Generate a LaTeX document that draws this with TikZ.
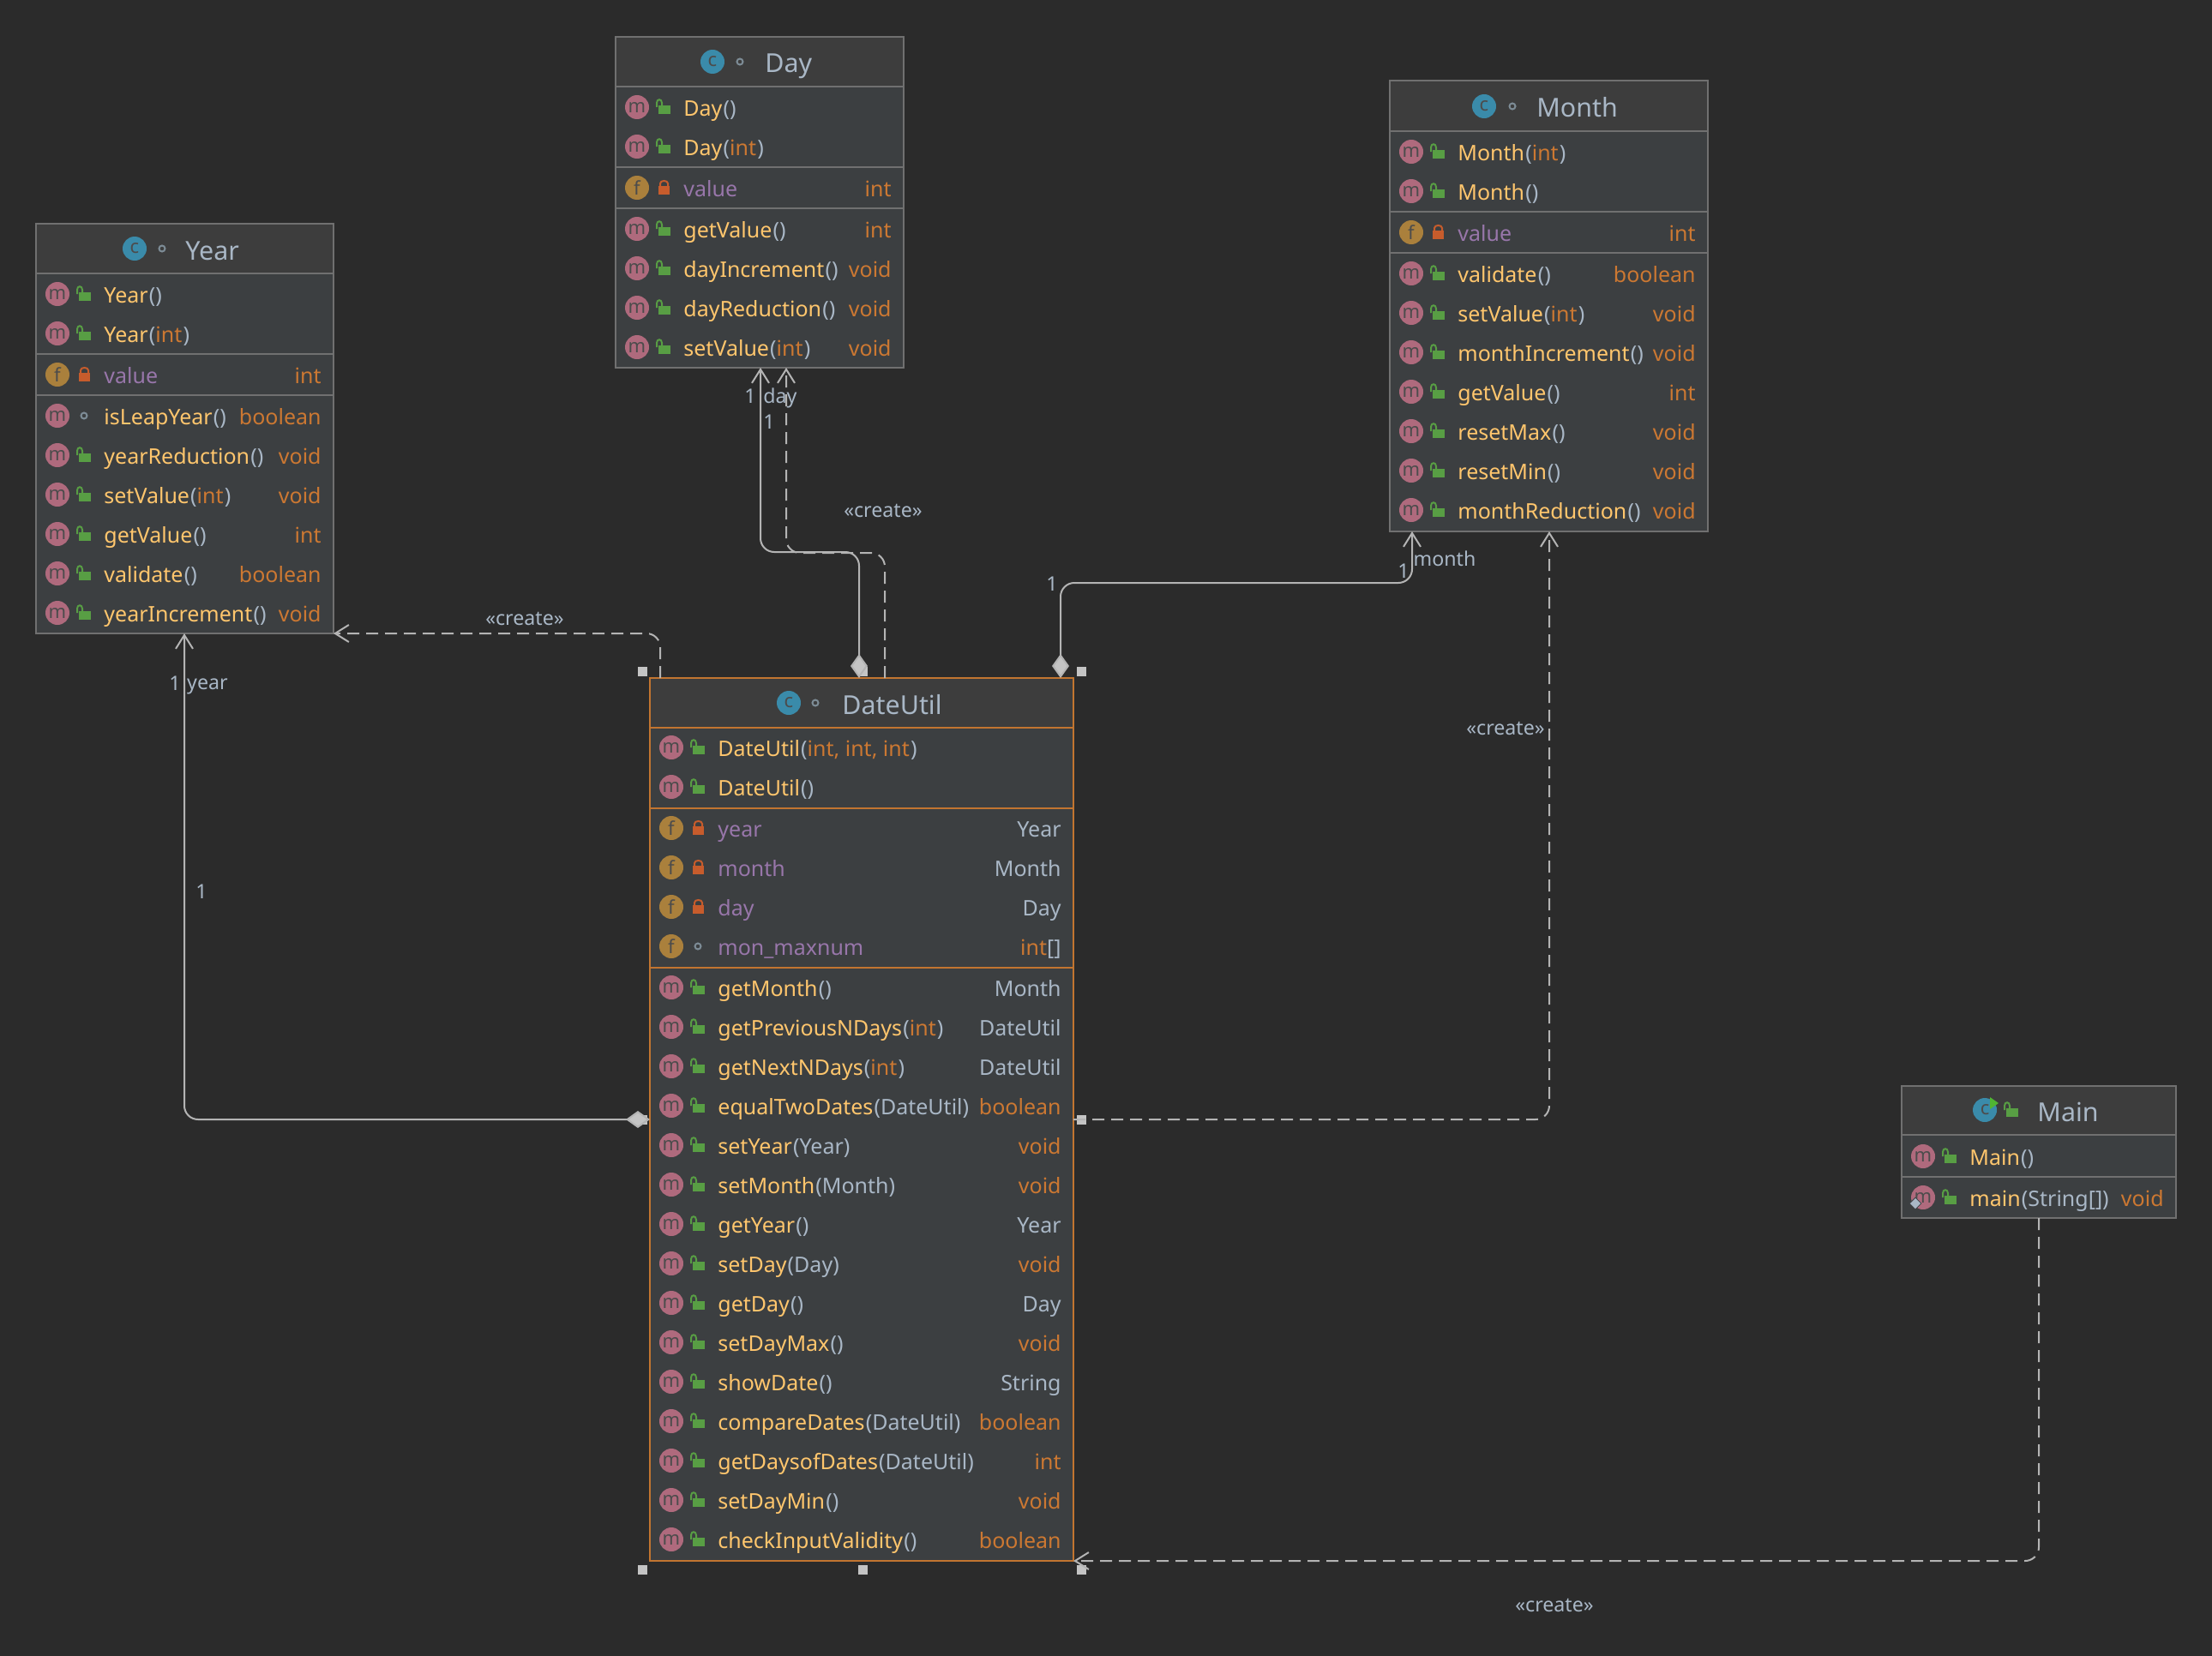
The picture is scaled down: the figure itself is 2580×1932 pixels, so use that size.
\documentclass[tikz,border=0pt]{standalone}
\usepackage{fontspec}
\setmainfont{Noto Sans}
\usetikzlibrary{calc,arrows.meta,positioning,fit,shapes.geometric}
\definecolor{pagebg}{RGB}{43,43,43}
\definecolor{bodybg}{RGB}{60,63,65}
\definecolor{headbg}{RGB}{61,61,61}
\definecolor{framegrey}{RGB}{112,112,112}
\definecolor{frameorange}{RGB}{194,117,48}
\definecolor{titleblue}{RGB}{169,183,198}
\definecolor{methodgold}{RGB}{255,198,109}
\definecolor{typeorange}{RGB}{204,120,50}
\definecolor{fieldpurple}{RGB}{152,118,170}
\definecolor{iconm}{RGB}{175,106,125}
\definecolor{iconf}{RGB}{170,128,60}
\definecolor{iconc}{RGB}{58,139,170}
\definecolor{lockgreen}{RGB}{88,158,68}
\definecolor{lockred}{RGB}{199,92,44}
\definecolor{dotgrey}{RGB}{125,140,150}
\definecolor{linkgrey}{RGB}{180,180,180}
\definecolor{handlegrey}{RGB}{196,196,196}
\definecolor{runflag}{RGB}{80,180,50}
\tikzset{
  bodyframe/.style={rectangle, fill=bodybg, inner sep=0pt, outer sep=0pt, line width=1pt},
  headframe/.style={rectangle, fill=headbg, inner sep=0pt, outer sep=0pt},
  roundicon/.style={circle, minimum size=14pt, inner sep=0pt, text=black!70, font=\fontsize{11}{11}\selectfont},
  micon/.style={roundicon, fill=iconm},
  ficon/.style={roundicon, fill=iconf},
  cicon/.style={roundicon, fill=iconc},
  rowtext/.style={anchor=base west, inner sep=0pt, text=methodgold, font=\fontsize{12.5}{12.5}\selectfont},
  rowtype/.style={anchor=base east, inner sep=0pt, text=typeorange, font=\fontsize{12.5}{12.5}\selectfont},
  classtitle/.style={anchor=base west, inner sep=0pt, text=titleblue, font=\fontsize{15.2}{15.2}\selectfont},
  linktext/.style={inner sep=0pt, text=titleblue, font=\fontsize{11.6}{11.6}\selectfont},
  handlebox/.style={rectangle, fill=handlegrey, minimum size=5.5pt, inner sep=0pt},
  staticmark/.style={diamond, fill=titleblue, draw=bodybg, minimum size=7pt, inner sep=0pt},
  linkline/.style={line width=1pt, linkgrey, rounded corners=8pt},
  usedep/.style={linkline, dash pattern=on 7pt off 4pt, -{Straight Barb[length=8pt,width=10pt]}},
  partof/.style={linkline, {Diamond[length=14pt,width=10pt,fill=handlegrey]}-{Straight Barb[length=8pt,width=10pt]}},
  openlock/.pic={
    \fill[lockgreen] (-6,-2) rectangle (8,8);
    \draw[lockgreen, line width=1pt] (-8,0) -- (-8,-5) .. controls (-8,-10) and (-2,-10) .. (-2,-5) -- (-2,-2);
  },
  shutlock/.pic={
    \fill[lockred] (-6,-2) rectangle (7,8);
    \draw[lockred, line width=1pt] (-4,-2) -- (-4,-5) .. controls (-4,-9) and (5,-9) .. (5,-5) -- (5,-2);
  },
  packdot/.pic={
    \draw[dotgrey, line width=1pt] (0,0) circle (3.5);
  },
}
\newcommand{\mn}[1]{\textcolor{methodgold}{#1}}
\newcommand{\fn}[1]{\textcolor{fieldpurple}{#1}}
\newcommand{\pa}[1]{\textcolor{titleblue}{\kern0.6pt#1}}
\newcommand{\ty}[1]{\textcolor{typeorange}{#1}}
\newcommand{\cl}[1]{\textcolor{titleblue}{#1}}
% name, left, top, right, bottom, header bottom, frame colour
\newcommand{\classbox}[7]{
  \def\rowL{#2}\def\rowR{#4}\def\rowC{#7}
  \node[bodyframe, fit={(#2,#3)(#4,#5)}] (#1) {};
  \node[headframe, fit={(#2,#3)(#4,#6)}] (#1Head) {};
  \node[draw=#7, line width=1pt, inner sep=0pt, outer sep=0pt, fit={(#2,#3)(#4,#5)}] (#1Frame) {};
  \draw[#7, line width=1pt] (#2,#6) -- (#4,#6);
}
\newcommand{\rowline}[1]{\draw[\rowC, line width=1pt] (\rowL,#1) -- (\rowR,#1);}
% name, y, icon style, letter, mark, label, type
\newcommand{\classrow}[7]{
  \node[#3] (#1Icon) at (\rowL+25,#2) {#4};
  \pic at (\rowL+56,#2) {#5};
  \node[rowtext] (#1Text) at (\rowL+79,#2+10) {#6};
  \if\relax\detokenize{#7}\relax\else
    \node[rowtype] (#1Type) at (\rowR-14,#2+10) {#7};
  \fi
}
\newcommand{\mrow}[4]{\classrow{#1}{#2}{micon}{m}{openlock}{#3}{#4}}
\newcommand{\frow}[4]{\classrow{#1}{#2}{ficon}{f}{shutlock}{#3}{#4}}

\begin{document}
\begin{tikzpicture}[x=0.5pt, y=-0.5pt]
  \useasboundingbox (0,0) rectangle (2580,1932);
  \fill[pagebg] (0,0) rectangle (2580,1932);

  % Year
  \classbox{year}{42}{261}{389}{739}{319}{framegrey}
  \node[cicon] (yearC) at (157,290) {c};
  \pic at (189,290) {packdot};
  \node[classtitle] (yearTitle) at (216,303) {Year};
  \rowline{413}
  \rowline{461}
  \mrow{yearA}{343}{\mn{Year}\pa{()}}{}
  \mrow{yearB}{389}{\mn{Year}\pa{(}\ty{int}\pa{)}}{}
  \frow{yearF}{437}{\fn{value}}{int}
  \classrow{yearD}{485}{micon}{m}{packdot}{\mn{isLeapYear}\pa{()}}{boolean}
  \mrow{yearE}{531}{\mn{yearReduction}\pa{()}}{void}
  \mrow{yearG}{577}{\mn{setValue}\pa{(}\ty{int}\pa{)}}{void}
  \mrow{yearH}{623}{\mn{getValue}\pa{()}}{int}
  \mrow{yearI}{669}{\mn{validate}\pa{()}}{boolean}
  \mrow{yearJ}{715}{\mn{yearIncrement}\pa{()}}{void}

  % Day
  \classbox{day}{718}{43}{1054}{429}{101}{framegrey}
  \node[cicon] (dayC) at (831,72) {c};
  \pic at (863,72) {packdot};
  \node[classtitle] (dayTitle) at (892,85) {Day};
  \rowline{195}
  \rowline{243}
  \mrow{dayA}{125}{\mn{Day}\pa{()}}{}
  \mrow{dayB}{171}{\mn{Day}\pa{(}\ty{int}\pa{)}}{}
  \frow{dayF}{219}{\fn{value}}{int}
  \mrow{dayD}{267}{\mn{getValue}\pa{()}}{int}
  \mrow{dayE}{313}{\mn{dayIncrement}\pa{()}}{void}
  \mrow{dayG}{359}{\mn{dayReduction}\pa{()}}{void}
  \mrow{dayH}{405}{\mn{setValue}\pa{(}\ty{int}\pa{)}}{void}

  % Month
  \classbox{month}{1621}{94}{1992}{620}{153}{framegrey}
  \node[cicon] (monthC) at (1731,124) {c};
  \pic at (1764,124) {packdot};
  \node[classtitle] (monthTitle) at (1792,136) {Month};
  \rowline{247}
  \rowline{295}
  \mrow{monthA}{177}{\mn{Month}\pa{(}\ty{int}\pa{)}}{}
  \mrow{monthB}{223}{\mn{Month}\pa{()}}{}
  \frow{monthF}{271}{\fn{value}}{int}
  \mrow{monthD}{319}{\mn{validate}\pa{()}}{boolean}
  \mrow{monthE}{365}{\mn{setValue}\pa{(}\ty{int}\pa{)}}{void}
  \mrow{monthG}{411}{\mn{monthIncrement}\pa{()}}{void}
  \mrow{monthH}{457}{\mn{getValue}\pa{()}}{int}
  \mrow{monthI}{503}{\mn{resetMax}\pa{()}}{void}
  \mrow{monthJ}{549}{\mn{resetMin}\pa{()}}{void}
  \mrow{monthK}{595}{\mn{monthReduction}\pa{()}}{void}

  % DateUtil
  \classbox{dateUtil}{758}{791}{1252}{1821}{849}{frameorange}
  \node[cicon] (dateUtilC) at (920,820) {c};
  \pic at (951,820) {packdot};
  \node[classtitle] (dateUtilTitle) at (982,833) {DateUtil};
  \rowline{943}
  \rowline{1129}
  \mrow{dateA}{872}{\mn{DateUtil}\pa{(}\ty{int, int, int}\pa{)}}{}
  \mrow{dateB}{918}{\mn{DateUtil}\pa{()}}{}
  \frow{dateF}{966}{\fn{year}}{\cl{Year}}
  \frow{dateG}{1012}{\fn{month}}{\cl{Month}}
  \frow{dateH}{1058}{\fn{day}}{\cl{Day}}
  \classrow{dateI}{1104}{ficon}{f}{packdot}{\fn{mon\_maxnum}}{int\cl{\textbf{[]}}}
  \mrow{dateJ}{1152}{\mn{getMonth}\pa{()}}{\cl{Month}}
  \mrow{dateK}{1198}{\mn{getPreviousNDays}\pa{(}\ty{int}\pa{)}}{\cl{DateUtil}}
  \mrow{dateL}{1244}{\mn{getNextNDays}\pa{(}\ty{int}\pa{)}}{\cl{DateUtil}}
  \mrow{dateM}{1290}{\mn{equalTwoDates}\pa{(DateUtil)}}{boolean}
  \mrow{dateN}{1336}{\mn{setYear}\pa{(Year)}}{void}
  \mrow{dateO}{1382}{\mn{setMonth}\pa{(Month)}}{void}
  \mrow{dateP}{1428}{\mn{getYear}\pa{()}}{\cl{Year}}
  \mrow{dateQ}{1474}{\mn{setDay}\pa{(Day)}}{void}
  \mrow{dateR}{1520}{\mn{getDay}\pa{()}}{\cl{Day}}
  \mrow{dateS}{1566}{\mn{setDayMax}\pa{()}}{void}
  \mrow{dateT}{1612}{\mn{showDate}\pa{()}}{\cl{String}}
  \mrow{dateU}{1658}{\mn{compareDates}\pa{(DateUtil)}}{boolean}
  \mrow{dateV}{1704}{\mn{getDaysofDates}\pa{(DateUtil)}}{int}
  \mrow{dateW}{1750}{\mn{setDayMin}\pa{()}}{void}
  \mrow{dateX}{1796}{\mn{checkInputValidity}\pa{()}}{boolean}

  % Main
  \classbox{main}{2218}{1267}{2538}{1421}{1324}{framegrey}
  \node[cicon] (mainC) at (2315,1295) {c};
  \fill[runflag] (2321,1280) -- (2331,1287) -- (2321,1294) -- cycle;
  \pic at (2346,1295) {openlock};
  \node[classtitle] (mainTitle) at (2376,1308) {Main};
  \rowline{1373}
  \mrow{mainA}{1349}{\mn{Main}\pa{()}}{}
  \mrow{mainB}{1397}{\mn{main}\pa{(String\textbf{[]})}}{void}
  \node[staticmark] (mainStatic) at (2234,1404) {};

  % handles
  \node[handlebox] (handleNW) at (749,783) {};
  \node[handlebox] (handleN) at (1006,783) {};
  \node[handlebox] (handleNE) at (1261,783) {};
  \node[handlebox] (handleW) at (749,1306) {};
  \node[handlebox] (handleE) at (1261,1306) {};
  \node[handlebox] (handleSW) at (749,1831) {};
  \node[handlebox] (handleS) at (1006,1831) {};
  \node[handlebox] (handleSE) at (1261,1831) {};

  % links
  \coordinate (yearBend) at (215,1306);
  \coordinate (dayBend) at (887,644);
  \coordinate (dayDash) at (917,645);
  \coordinate (monthBend) at (1647,680);
  \draw[partof] (dateUtil.west |- yearBend) -| (year.south -| yearBend);
  \draw[usedep] (dateUtil.north -| 770,0) |- (year.east |- 0,739);
  \draw[partof] (dateUtil.north -| 1002,0) |- (dayBend) -- (day.south -| dayBend);
  \draw[usedep] (dateUtil.north -| 1032,0) |- (dayDash) -- (day.south -| dayDash);
  \draw[partof] (dateUtil.north -| 1237,0) |- (monthBend) -- (month.south -| monthBend);
  \draw[usedep] (dateUtil.east |- 0,1306) -| (month.south -| 1807,0);
  \draw[usedep] (main.south -| 2378,0) |- (dateUtil.south east);

  \node[linktext] (yearOne) at (204,797) {1};
  \node[linktext] (yearRole) at (242,801) {year};
  \node[linktext] (yearOwn) at (235,1040) {1};
  \node[linktext] (yearMake) at (612,722) {«create»};
  \node[linktext] (dayOne) at (875,462) {1};
  \node[linktext] (dayRole) at (910,464) {day};
  \node[linktext] (dayOwn) at (897,492) {1};
  \node[linktext] (dayMake) at (1030,596) {«create»};
  \node[linktext] (monthOwn) at (1227,681) {1};
  \node[linktext] (monthOne) at (1637,666) {1};
  \node[linktext] (monthRole) at (1685,652) {month};
  \node[linktext] (monthMake) at (1756,850) {«create»};
  \node[linktext] (mainMake) at (1813,1873) {«create»};
\end{tikzpicture}
\end{document}
